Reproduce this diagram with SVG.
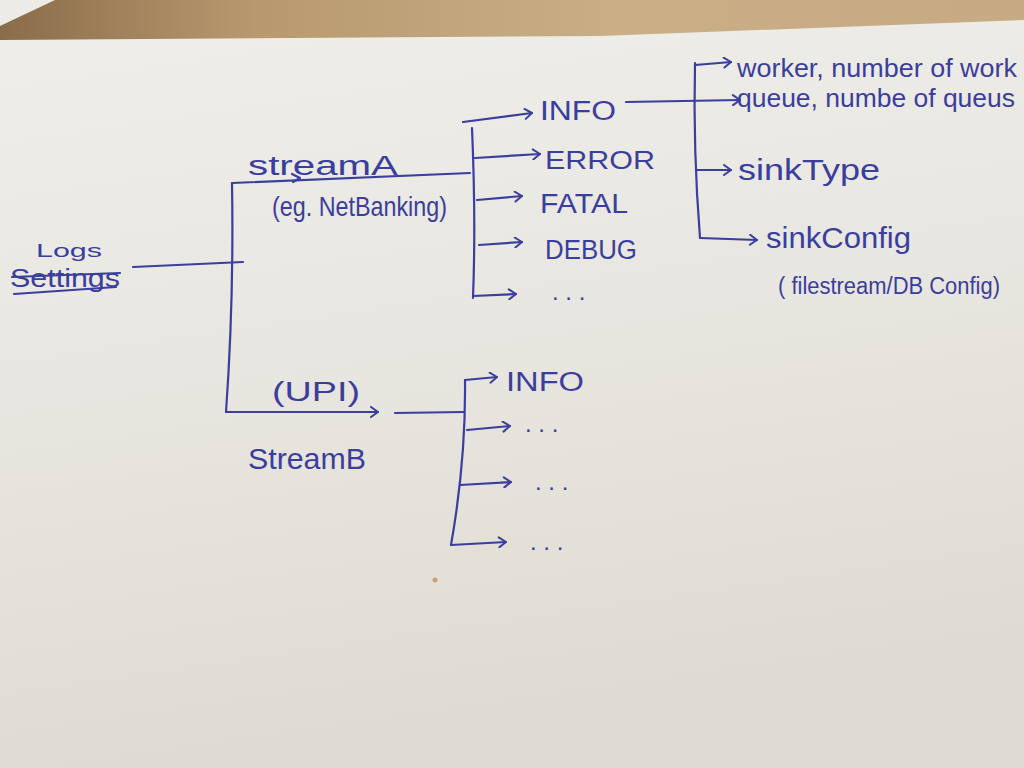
<svg xmlns="http://www.w3.org/2000/svg" width="1024" height="768" viewBox="0 0 1024 768">
  <defs>
    <linearGradient id="table" x1="0" y1="0" x2="1" y2="0">
      <stop offset="0" stop-color="#8a6c4a"/>
      <stop offset="0.25" stop-color="#b8996f"/>
      <stop offset="0.6" stop-color="#c9ae86"/>
      <stop offset="1" stop-color="#c6aa84"/>
    </linearGradient>
    <linearGradient id="paper" x1="0" y1="0" x2="0.2" y2="1">
      <stop offset="0" stop-color="#efeeea"/>
      <stop offset="0.5" stop-color="#e8e6e0"/>
      <stop offset="1" stop-color="#dfdbd2"/>
    </linearGradient>
    <marker id="arr" viewBox="0 0 10 12" refX="9" refY="6" markerWidth="10" markerHeight="12" markerUnits="userSpaceOnUse" orient="auto">
      <path d="M2,1 L9,6 L2,11" fill="none" stroke="#3a3e9c" stroke-width="2" stroke-linecap="round" stroke-linejoin="round"/>
    </marker>
    <style>
      .ink { fill: #3a3e9c; font-family: "Liberation Sans", "DejaVu Sans", sans-serif; }
      .wire { fill: none; stroke: #3a3e9c; stroke-width: 2.2; stroke-linecap: round; stroke-linejoin: round; }
      .arrow { marker-end: url(#arr); }
    </style>
  </defs>

  <!-- background: table and paper -->
  <rect x="0" y="0" width="1024" height="768" fill="url(#table)"/>
  <polygon points="0,0 55,0 0,26" fill="#ecebe8"/>
  <polygon points="0,40 600,36 1024,20 1024,768 0,768" fill="url(#paper)"/>
  <circle cx="435" cy="580" r="2.5" fill="#c9a27c"/>

  <g id="connectors">
    <path class="wire" d="M133,267 L243,262"/>
    <path class="wire" d="M232,183 Q234,300 226,412"/>
    <path class="wire" d="M232,183 L470,173"/>
    <path class="wire" d="M292,174 L300,178 L293,182"/>
    <path class="wire arrow" d="M226,412 L378,412"/>
    <path class="wire" d="M472,128 Q476,220 473,298"/>
    <path class="wire arrow" d="M463,122 L532,113"/>
    <path class="wire arrow" d="M475,158 L540,154"/>
    <path class="wire arrow" d="M477,200 L522,196"/>
    <path class="wire arrow" d="M479,245 L522,242"/>
    <path class="wire arrow" d="M473,296 L516,294"/>
    <path class="wire arrow" d="M626,102 L740,100"/>
    <path class="wire" d="M695,63 Q693,150 700,238"/>
    <path class="wire arrow" d="M695,65 L731,62"/>
    <path class="wire arrow" d="M697,170 L731,170"/>
    <path class="wire arrow" d="M700,238 L757,240"/>
    <path class="wire" d="M395,413 L464,412"/>
    <path class="wire" d="M465,380 Q466,460 451,545"/>
    <path class="wire arrow" d="M465,380 L497,377"/>
    <path class="wire arrow" d="M467,430 L510,426"/>
    <path class="wire arrow" d="M460,485 L511,482"/>
    <path class="wire arrow" d="M451,545 L506,542"/>
  </g>

  <g id="node-logs-settings">
    <text class="ink" x="36" y="257" font-size="19" textLength="66" lengthAdjust="spacingAndGlyphs">Logs</text>
    <text class="ink" x="10" y="287" font-size="25" textLength="110" lengthAdjust="spacingAndGlyphs">Settings</text>
    <path class="wire" d="M12,277 L120,273"/>
    <path class="wire" d="M14,294 L116,287"/>
  </g>

  <g id="node-streamA">
    <text class="ink" x="248" y="175" font-size="27" textLength="150" lengthAdjust="spacingAndGlyphs">streamA</text>
    <text class="ink" x="272" y="216" font-size="28" textLength="175" lengthAdjust="spacingAndGlyphs">(eg. NetBanking)</text>
  </g>

  <g id="node-streamB">
    <text class="ink" x="272" y="401" font-size="27" textLength="88" lengthAdjust="spacingAndGlyphs">(UPI)</text>
    <text class="ink" x="248" y="469" font-size="29" textLength="118" lengthAdjust="spacingAndGlyphs">StreamB</text>
  </g>

  <g id="node-a-info">
    <text class="ink" x="540" y="120" font-size="27" textLength="76" lengthAdjust="spacingAndGlyphs">INFO</text>
  </g>
  <g id="node-a-error">
    <text class="ink" x="545" y="169" font-size="25" textLength="110" lengthAdjust="spacingAndGlyphs">ERROR</text>
  </g>
  <g id="node-a-fatal">
    <text class="ink" x="540" y="213" font-size="27" textLength="88" lengthAdjust="spacingAndGlyphs">FATAL</text>
  </g>
  <g id="node-a-debug">
    <text class="ink" x="545" y="259" font-size="27" textLength="92" lengthAdjust="spacingAndGlyphs">DEBUG</text>
  </g>
  <g id="node-a-more">
    <text class="ink" x="552" y="300" font-size="24">. . .</text>
  </g>

  <g id="node-worker">
    <text class="ink" x="737" y="77" font-size="25" textLength="280" lengthAdjust="spacingAndGlyphs">worker, number of work</text>
  </g>
  <g id="node-queue">
    <text class="ink" x="737" y="107" font-size="25" textLength="278" lengthAdjust="spacingAndGlyphs">queue, numbe of queus</text>
  </g>
  <g id="node-sinktype">
    <text class="ink" x="738" y="180" font-size="30" textLength="142" lengthAdjust="spacingAndGlyphs">sinkType</text>
  </g>
  <g id="node-sinkconfig">
    <text class="ink" x="766" y="248" font-size="30" textLength="145" lengthAdjust="spacingAndGlyphs">sinkConfig</text>
    <text class="ink" x="778" y="294" font-size="23" textLength="222" lengthAdjust="spacingAndGlyphs">( filestream/DB Config)</text>
  </g>

  <g id="node-b-info">
    <text class="ink" x="506" y="391" font-size="27" textLength="78" lengthAdjust="spacingAndGlyphs">INFO</text>
  </g>
  <g id="node-b-more1">
    <text class="ink" x="525" y="432" font-size="24">. . .</text>
  </g>
  <g id="node-b-more2">
    <text class="ink" x="535" y="490" font-size="24">. . .</text>
  </g>
  <g id="node-b-more3">
    <text class="ink" x="530" y="550" font-size="24">. . .</text>
  </g>
</svg>
